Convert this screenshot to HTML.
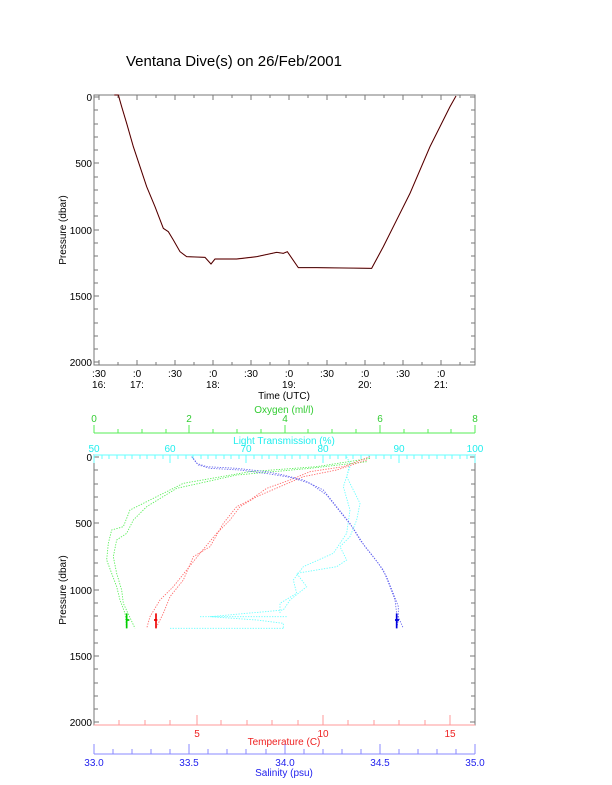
<!DOCTYPE html>
<html><head><style>
body{margin:0;background:#fff}
svg{display:block}
text{font-family:"Liberation Sans",sans-serif;font-size:10px}
</style></head><body>
<svg width="612" height="785" viewBox="0 0 612 785" xmlns="http://www.w3.org/2000/svg">
<rect width="612" height="785" fill="#fff"/>
<text x="126" y="66" style="font-size:15px">Ventana Dive(s) on 26/Feb/2001</text>

<!-- TOP PLOT -->
<rect x="94" y="95" width="381" height="270" fill="none" stroke="#777" stroke-width="1"/>
<g stroke="#777" stroke-width="1">
<path d="M94 97h5M94 110h4M94 124h4M94 137h4M94 150h4M94 163h5M94 177h4M94 190h4M94 203h4M94 216h4M94 230h5M94 243h4M94 256h4M94 270h4M94 283h4M94 296h5M94 309h4M94 323h4M94 336h4M94 349h4M94 362h5"/>
<path d="M475 97h-5M475 110h-4M475 124h-4M475 137h-4M475 150h-4M475 163h-5M475 177h-4M475 190h-4M475 203h-4M475 216h-4M475 230h-5M475 243h-4M475 256h-4M475 270h-4M475 283h-4M475 296h-5M475 309h-4M475 323h-4M475 336h-4M475 349h-4M475 362h-5"/>
<path d="M99 365v-5M137 365v-5M175 365v-5M213 365v-5M251 365v-5M289 365v-5M327 365v-5M365 365v-5M403 365v-5M441 365v-5M118 365v-3M156 365v-3M194 365v-3M232 365v-3M270 365v-3M308 365v-3M346 365v-3M384 365v-3M422 365v-3M460 365v-3"/>
<path d="M99 95v5M137 95v5M175 95v5M213 95v5M251 95v5M289 95v5M327 95v5M365 95v5M403 95v5M441 95v5M118 95v3M156 95v3M194 95v3M232 95v3M270 95v3M308 95v3M346 95v3M384 95v3M422 95v3M460 95v3"/>
</g>
<g text-anchor="end">
<text x="92" y="101">0</text><text x="92" y="167">500</text><text x="92" y="234">1000</text><text x="92" y="300">1500</text><text x="92" y="366">2000</text>
</g>
<g text-anchor="middle">
<text x="99" y="377">:30</text><text x="99" y="388">16:</text>
<text x="137" y="377">:0</text><text x="137" y="388">17:</text>
<text x="175" y="377">:30</text>
<text x="213" y="377">:0</text><text x="213" y="388">18:</text>
<text x="251" y="377">:30</text>
<text x="289" y="377">:0</text><text x="289" y="388">19:</text>
<text x="327" y="377">:30</text>
<text x="365" y="377">:0</text><text x="365" y="388">20:</text>
<text x="403" y="377">:30</text>
<text x="441" y="377">:0</text><text x="441" y="388">21:</text>
<text x="284" y="399">Time (UTC)</text>
<text transform="translate(66,230) rotate(-90)">Pressure (dbar)</text>
<text transform="translate(66,590) rotate(-90)">Pressure (dbar)</text>
</g>
<g transform="translate(50,80) scale(0.33333)" fill="none">
<path stroke="#e04040" stroke-width="3.5" d="M193 45L205 45L215 80L230 130L250 200L270 260L290 320L315 380L340 445L355 455L370 480L390 515L410 530L465 532L483 552L495 537L560 537L620 530L680 517L700 520L712 515L745 563L800 563L965 565L1000 500L1040 420L1080 340L1110 270L1140 200L1170 140L1200 80L1218 48"/>
<path stroke="#200" stroke-width="2.2" d="M193 45L205 45L215 80L230 130L250 200L270 260L290 320L315 380L340 445L355 455L370 480L390 515L410 530L465 532L483 552L495 537L560 537L620 530L680 517L700 520L712 515L745 563L800 563L965 565L1000 500L1040 420L1080 340L1110 270L1140 200L1170 140L1200 80L1218 48"/>
</g>

<!-- BOTTOM PLOT -->
<rect x="94" y="455" width="381" height="270" fill="none" stroke="#777"/>
<g stroke="#777">
<path d="M94 457h5M94 470h4M94 484h4M94 497h4M94 510h4M94 523h5M94 537h4M94 550h4M94 563h4M94 576h4M94 590h5M94 603h4M94 616h4M94 630h4M94 643h4M94 656h5M94 669h4M94 683h4M94 696h4M94 709h4M94 722h5"/>
<path d="M475 457h-5M475 470h-4M475 484h-4M475 497h-4M475 510h-4M475 523h-5M475 537h-4M475 550h-4M475 563h-4M475 576h-4M475 590h-5M475 603h-4M475 616h-4M475 630h-4M475 643h-4M475 656h-5M475 669h-4M475 683h-4M475 696h-4M475 709h-4M475 722h-5"/>
</g>
<g text-anchor="end">
<text x="92" y="461">0</text><text x="92" y="527">500</text><text x="92" y="594">1000</text><text x="92" y="660">1500</text><text x="92" y="726">2000</text>
</g>
<g stroke="#5e5" fill="none">
<path d="M94 433H475"/>
<path d="M94 433v-8M189 433v-8M285 433v-8M380 433v-8M475 433v-8M118 433v-4M142 433v-4M166 433v-4M213 433v-4M237 433v-4M261 433v-4M308 433v-4M332 433v-4M356 433v-4M404 433v-4M428 433v-4M451 433v-4"/>
</g>
<g fill="#3c3" text-anchor="middle">
<text x="94" y="422">0</text><text x="189" y="422">2</text><text x="285" y="422">4</text><text x="380" y="422">6</text><text x="475" y="422">8</text>
<text x="284" y="413">Oxygen (ml/l)</text>
</g>
<g stroke="#6ff" fill="none">
<path d="M94 455H475"/>
<path d="M94 455v8M170 455v8M246 455v8M323 455v8M399 455v8M475 455v8M102 455v4M109 455v4M117 455v4M125 455v4M132 455v4M140 455v4M147 455v4M155 455v4M163 455v4M178 455v4M186 455v4M193 455v4M201 455v4M208 455v4M216 455v4M224 455v4M231 455v4M239 455v4M254 455v4M262 455v4M269 455v4M277 455v4M285 455v4M292 455v4M300 455v4M308 455v4M315 455v4M330 455v4M338 455v4M346 455v4M353 455v4M361 455v4M369 455v4M376 455v4M384 455v4M391 455v4M407 455v4M414 455v4M422 455v4M429 455v4M437 455v4M445 455v4M452 455v4M460 455v4M467 455v4"/>
</g>
<g fill="#2ee" text-anchor="middle">
<text x="94" y="452">50</text><text x="170" y="452">60</text><text x="246" y="452">70</text><text x="323" y="452">80</text><text x="399" y="452">90</text><text x="475" y="452">100</text>
<text x="284" y="444">Light Transmission (%)</text>
</g>
<g stroke="#f99" fill="none">
<path d="M94 725H475"/>
<path d="M197 725v-10M323 725v-10M450 725v-10M119 725v-5M145 725v-5M170 725v-5M221 725v-5M247 725v-5M272 725v-5M298 725v-5M348 725v-5M374 725v-5M399 725v-5M425 725v-5"/>
</g>
<g fill="#e22" text-anchor="middle">
<text x="197" y="737">5</text><text x="323" y="737">10</text><text x="450" y="737">15</text>
<text x="284" y="745">Temperature (C)</text>
</g>
<g stroke="#88f" fill="none">
<path d="M94 754H475"/>
<path d="M94 754v-10M189 754v-10M285 754v-10M380 754v-10M475 754v-10M113 754v-5M132 754v-5M151 754v-5M170 754v-5M208 754v-5M227 754v-5M246 754v-5M266 754v-5M304 754v-5M323 754v-5M342 754v-5M361 754v-5M399 754v-5M418 754v-5M437 754v-5M456 754v-5"/>
</g>
<g fill="#22e" text-anchor="middle">
<text x="94" y="766">33.0</text><text x="189" y="766">33.5</text><text x="285" y="766">34.0</text><text x="380" y="766">34.5</text><text x="475" y="766">35.0</text>
<text x="284" y="776">Salinity (psu)</text>
</g>

<g transform="translate(50,400) scale(0.33333)" fill="none" stroke-width="2.6" stroke-dasharray="4 4">
<path stroke="#6ff" d="M890 170L900 190L890 230L910 270L930 310L920 360L900 410L870 440L890 480L860 500L740 520L770 560L720 600L700 630L480 650L620 660L700 670L700 685M360 685L700 685M450 650L710 650M900 200L880 260L900 330L890 400L850 460L760 500L730 540L740 580L690 610L690 640"/>
<path stroke="#5e5" d="M960 175L800 200L600 215L400 250L300 300L240 330L220 380L185 390L175 430L170 480L185 520L200 560L210 600L225 640L230 685"/>
<path stroke="#5e5" d="M950 185L780 205L560 225L380 265L290 320L250 360L230 400L200 420L190 470L200 520L215 570L220 610L255 685"/>
<path stroke="#f66" d="M960 170L880 200L780 215L720 240L650 265L600 300L560 320L520 370L480 440L430 470L400 540L360 590L340 640L320 680"/>
<path stroke="#f66" d="M950 180L860 210L760 230L690 260L620 290L570 320L540 360L500 400L450 460L410 510L370 560L330 600L300 650L290 685"/>
<path stroke="#66e" d="M425 170L440 190L470 200L560 205L650 215L700 225L760 240L820 270L860 320L900 370L930 420L970 470L1000 510L1020 560L1035 600L1040 640L1060 685"/>
<path stroke="#66e" d="M430 175L445 195L480 205L570 210L660 222L720 232L780 250L830 285L870 335L910 385L945 440L985 490L1010 530L1030 580L1045 620L1045 660L1040 685"/>
</g>
<g transform="translate(50,400) scale(0.33333)" stroke-width="5" fill="none">
<path stroke="#0c0" d="M230 640v45M228 660h10"/>
<path stroke="#e00" d="M318 640v45M312 660h10"/>
<path stroke="#00d" d="M1040 640v45M1035 660h12"/>
</g>
</svg>
</body></html>
